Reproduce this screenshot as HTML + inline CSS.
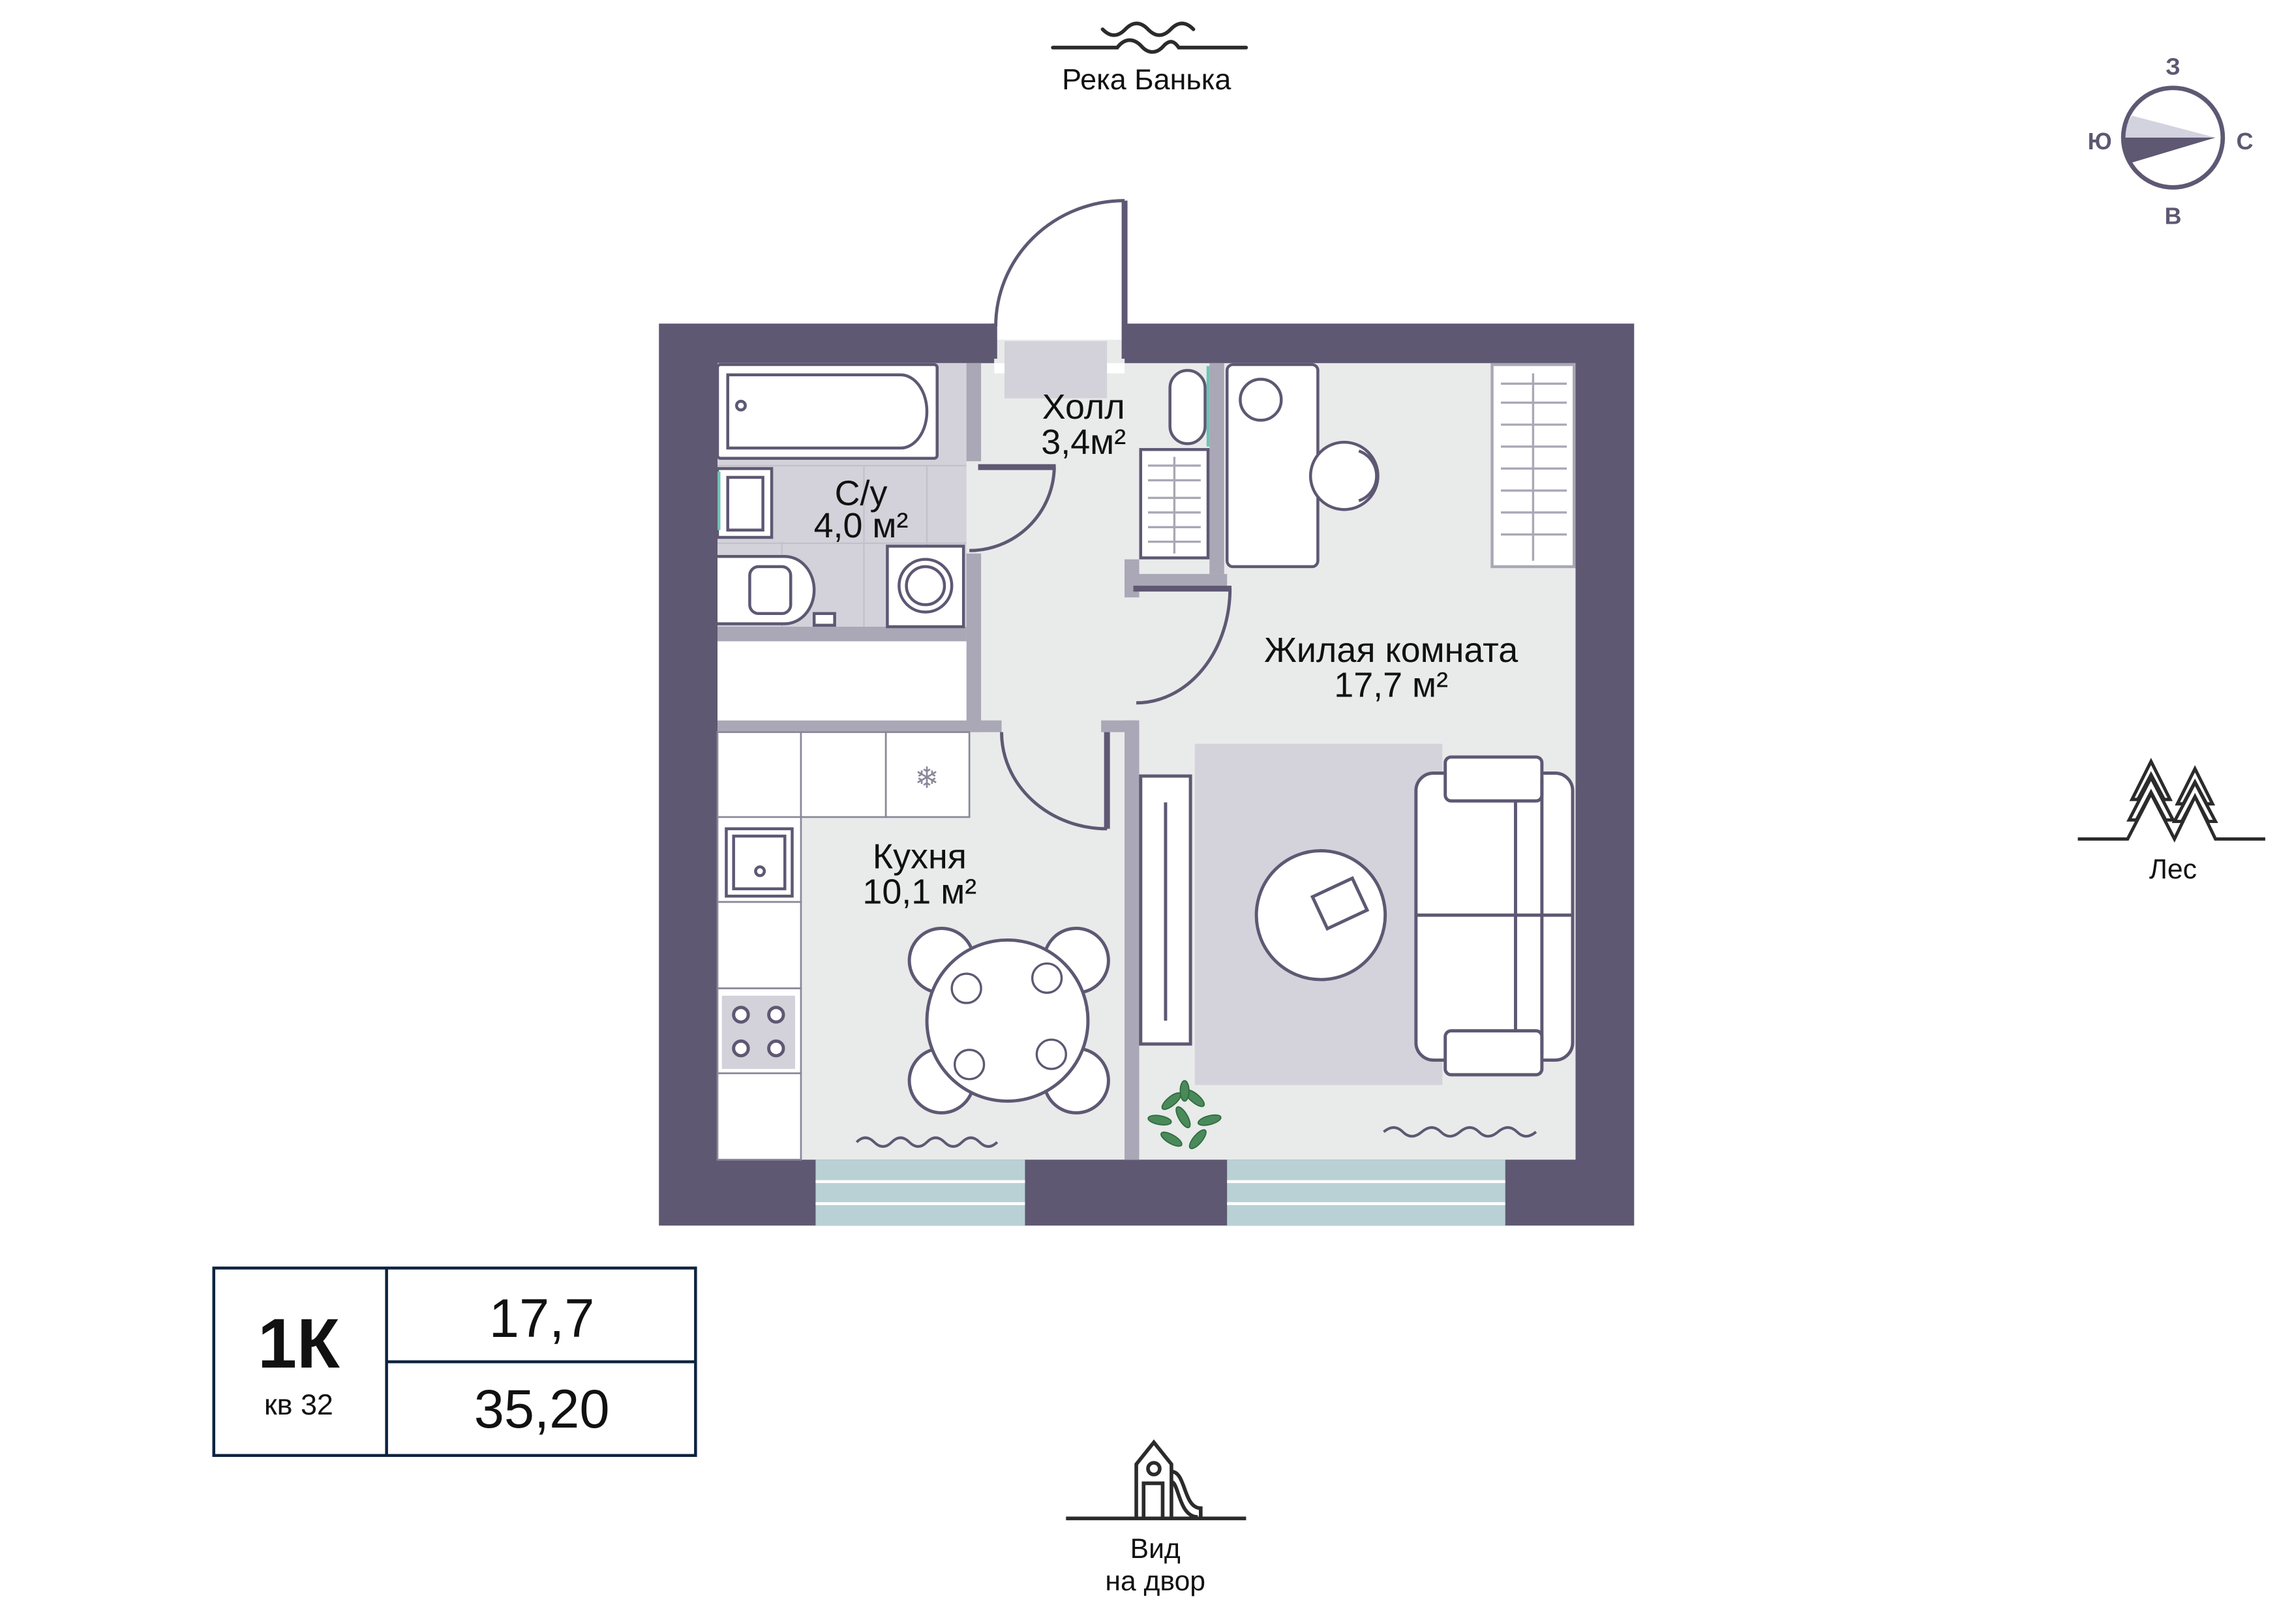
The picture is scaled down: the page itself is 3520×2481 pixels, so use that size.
<!DOCTYPE html>
<html><head><meta charset="utf-8"><style>
html,body{margin:0;padding:0;background:#fff}
svg{display:block}
text{font-family:"Liberation Sans","DejaVu Sans",sans-serif}
</style></head><body>
<svg width="3520" height="2481" viewBox="0 0 1568 1105" preserveAspectRatio="none" xmlns="http://www.w3.org/2000/svg">
<rect width="1568" height="1105" fill="#fff"/>
<!-- River -->
<g fill="none" stroke="#2b2b2b" stroke-width="2.5" stroke-linecap="round">
<path d="M753,20 q7.75,8 15.5,0 t15.5,0 t15.5,0 t15.5,0"/>
<path d="M719,32.5 H763 C768,26 774,26 779,31 C784,37 790,37 795,31 C799,27 802,28 805,32.5 H851"/>
</g>
<text x="783" y="61" font-size="20" text-anchor="middle" fill="#111">Река Банька</text>

<!-- Compass -->
<g>
<circle cx="1484" cy="94" r="34" fill="#fff"/>
<path d="M1513,94 L1456,79 A34,34 0 0 0 1450,94 Z" fill="#d3d2df"/>
<path d="M1513,94 L1450,94 A34,34 0 0 0 1456,111 Z" fill="#5e5873"/>
<circle cx="1484" cy="94" r="34" fill="none" stroke="#5e5873" stroke-width="3"/>
<g font-size="16" font-weight="bold" fill="#5e5873" text-anchor="middle">
<text x="1484" y="51">З</text><text x="1434" y="102">Ю</text><text x="1533" y="102">С</text><text x="1484" y="153">В</text></g>
</g>

<!-- Forest -->
<g fill="none" stroke="#2b2b2b" stroke-width="2.2" stroke-linejoin="miter">
<path d="M1419,573 H1453 L1469,542 L1485,573 L1499,544 L1513,573 H1547"/>
<path d="M1456,546 L1469,520 L1482,546 L1478,546 L1469,529 L1460,546 Z"/>
<path d="M1454,560 L1469,531 L1484,560 L1479,560 L1469,541 L1459,560 Z"/>
<path d="M1487,549 L1499,525 L1511,549 L1507,549 L1499,534 L1491,549 Z"/>
<path d="M1485,561 L1499,534.5 L1513,561 L1508,561 L1499,544 L1490,561 Z"/>
</g>
<text x="1484" y="600" font-size="19" text-anchor="middle" fill="#111">Лес</text>

<!-- Outer walls -->
<rect x="450" y="221" width="666" height="616" fill="#5e5873"/>
<rect x="490" y="248" width="586" height="544" fill="#e9eaea"/>
<rect x="679" y="215" width="89" height="40" fill="#fff"/>
<rect x="679" y="232" width="89" height="16" fill="#e9eaea"/>
<rect x="686" y="233" width="70" height="39" fill="#d3d2da"/>
<path d="M768,137 A88,86 0 0 0 680,223" fill="none" stroke="#5e5873" stroke-width="2.2"/>
<rect x="766" y="137" width="4" height="108" fill="#5e5873"/>
<rect x="677" y="221" width="4" height="24" fill="#5e5873"/>

<!-- Windows -->
<rect x="557" y="792" width="143" height="45" fill="#b9d1d4"/>
<rect x="838" y="792" width="190" height="45" fill="#b9d1d4"/>
<g stroke="#fff" stroke-width="2"><path d="M557,807 H700 M557,822 H700 M838,807 H1028 M838,822 H1028"/></g>

<!-- Bathroom floor -->
<rect x="490" y="248" width="170" height="180" fill="#d3d2da"/>
<g stroke="#c2c1cb" stroke-width="1"><path d="M590,318 V428 M633,318 V428 M534,370 V428 M490,371 H660 M490,318 H660"/></g>

<!-- Partition walls -->
<g fill="#aaa7b6">
<rect x="660" y="248" width="10" height="67"/>
<rect x="660" y="378" width="10" height="122"/>
<rect x="490" y="428" width="170" height="10"/>
<rect x="490" y="492" width="194" height="8"/>
<rect x="752" y="492" width="24" height="8"/>
<rect x="768" y="492" width="10" height="300"/>
<rect x="768" y="382" width="10" height="26"/>
<rect x="768" y="392" width="70" height="8"/>
<rect x="826" y="248" width="10" height="144"/>
</g>
<rect x="490" y="438" width="170" height="54" fill="#fff"/>

<!-- Doors -->
<g fill="none" stroke="#5e5873" stroke-width="2.2">
<path d="M720,319 A58,58 0 0 1 662,376"/>
<path d="M684,500 A72,66 0 0 0 756,566"/>
<path d="M840,402 A64,78 0 0 1 776,480"/>
</g>
<rect x="668" y="317" width="53" height="4" fill="#5e5873"/>
<rect x="774" y="400" width="67" height="4" fill="#5e5873"/>
<rect x="754" y="500" width="4" height="66" fill="#5e5873"/>

<!-- Bathroom furniture -->
<g fill="#fff" stroke="#5e5873" stroke-width="2">
<rect x="490" y="249" width="150" height="64" rx="2"/>
<path d="M497,256 H615 A18,25 0 0 1 615,306 H497 Z"/>
<circle cx="506" cy="277" r="3"/>
<rect x="490" y="320" width="37" height="47"/>
<rect x="497" y="326" width="24" height="36"/>
<path d="M490,380 H536 A20,23 0 0 1 536,426 H490"/>
<rect x="512" y="387" width="28" height="32" rx="6"/>
<rect x="606" y="373" width="52" height="55"/>
<circle cx="632" cy="400" r="18"/><circle cx="632" cy="400" r="13"/>
<rect x="556" y="419" width="14" height="8"/>
</g>
<rect x="490" y="322" width="2" height="40" fill="#6fc2b3"/>

<!-- Hall furniture -->
<g fill="#fff" stroke="#5e5873" stroke-width="2">
<rect x="799" y="253" width="24" height="50" rx="12"/>
<rect x="779" y="307" width="46" height="74"/>
</g>
<rect x="824" y="250" width="2" height="55" fill="#6fc2b3"/>
<g stroke="#aaa7b6" stroke-width="1.5"><path d="M802,312 V378 M784,318 H820 M784,328 H820 M784,340 H820 M784,350 H820 M784,360 H820 M784,370 H820"/></g>

<!-- Living: desk, wardrobe -->
<g fill="#fff" stroke="#5e5873" stroke-width="2">
<rect x="838" y="249" width="62" height="138" rx="4"/>
<circle cx="861" cy="273" r="14"/>
<circle cx="918" cy="325" r="23"/>
<path d="M928,308 A18,18 0 0 1 928,342" fill="none"/>
<rect x="1019" y="249" width="56" height="138" stroke="#aaa7b6"/>
</g>
<g stroke="#aaa7b6" stroke-width="1.5"><path d="M1047,255 V383 M1025,262 H1070 M1025,275 H1070 M1025,290 H1070 M1025,305 H1070 M1025,320 H1070 M1025,335 H1070 M1025,350 H1070 M1025,365 H1070"/></g>

<!-- Rug, sofa, table, TV -->
<rect x="816" y="508" width="169" height="233" fill="#d4d3dc"/>
<g fill="#fff" stroke="#5e5873" stroke-width="2.2">
<rect x="967" y="528" width="107" height="196" rx="12"/>
<rect x="987" y="517" width="66" height="30" rx="4"/>
<rect x="987" y="704" width="66" height="30" rx="4"/>
<path d="M967,625 H1074 M1035,547 V704 M1053,532 V720" fill="none"/>
<circle cx="902" cy="625" r="44"/>
<rect x="900" y="605" width="30" height="24" transform="rotate(-25 915 617)"/>
<rect x="779" y="530" width="34" height="183"/>
<path d="M796,548 V697"/>
</g>
<!-- plant -->
<g fill="#4a8a5a" stroke="#2f6b3e" stroke-width="0.8">
<ellipse cx="800" cy="752" rx="8" ry="3" transform="rotate(-40 800 752)"/>
<ellipse cx="816" cy="750" rx="8" ry="3" transform="rotate(40 816 750)"/>
<ellipse cx="792" cy="765" rx="8" ry="3" transform="rotate(10 792 765)"/>
<ellipse cx="826" cy="765" rx="8" ry="3" transform="rotate(-15 826 765)"/>
<ellipse cx="808" cy="763" rx="8" ry="3" transform="rotate(60 808 763)"/>
<ellipse cx="800" cy="778" rx="8" ry="3" transform="rotate(30 800 778)"/>
<ellipse cx="818" cy="778" rx="8" ry="3" transform="rotate(-50 818 778)"/>
<ellipse cx="809" cy="745" rx="7" ry="3" transform="rotate(90 809 745)"/>
</g>

<!-- Kitchen -->
<g fill="#fff" stroke="#8b879a" stroke-width="1.2">
<rect x="490" y="500" width="57" height="58"/>
<rect x="547" y="500" width="58" height="58"/>
<rect x="605" y="500" width="57" height="58"/>
<rect x="490" y="558" width="57" height="58"/>
<rect x="490" y="616" width="57" height="59"/>
<rect x="490" y="675" width="57" height="58"/>
<rect x="490" y="733" width="57" height="59"/>
</g>
<text x="633" y="538" font-size="20" text-anchor="middle" fill="#8b879a">❄</text>
<g fill="#fff" stroke="#5e5873" stroke-width="2"><rect x="496" y="566" width="45" height="46"/><rect x="501" y="571" width="35" height="36"/><circle cx="519" cy="595" r="3"/></g>
<rect x="493" y="680" width="50" height="50" fill="#d3d2da"/>
<g fill="#fff" stroke="#5e5873" stroke-width="2.2"><circle cx="506" cy="693" r="5"/><circle cx="530" cy="693" r="5"/><circle cx="506" cy="716" r="5"/><circle cx="530" cy="716" r="5"/></g>
<g fill="#fff" stroke="#5e5873" stroke-width="2.2">
<circle cx="643" cy="656" r="22"/><circle cx="735" cy="656" r="22"/><circle cx="643" cy="738" r="22"/><circle cx="735" cy="738" r="22"/>
<circle cx="688" cy="697" r="55"/>
<circle cx="660" cy="675" r="10" stroke-width="1.5"/><circle cx="715" cy="668" r="10" stroke-width="1.5"/>
<circle cx="662" cy="727" r="10" stroke-width="1.5"/><circle cx="718" cy="720" r="10" stroke-width="1.5"/>
</g>
<g fill="none" stroke="#5e5873" stroke-width="1.8">
<path d="M585,780 q6,-6 12,0 t12,0 t12,0 t12,0 t12,0 t12,0 t12,0 t12,0"/>
<path d="M945,773 q7,-6 13,0 t13,0 t13,0 t13,0 t13,0 t13,0 t13,0 t13,0"/>
</g>

<!-- Labels -->
<g font-size="24" fill="#111" text-anchor="middle">
<text x="740" y="286">Холл</text><text x="740" y="310">3,4м²</text>
<text x="588" y="345">С/у</text><text x="588" y="367">4,0 м²</text>
<text x="950" y="452">Жилая комната</text><text x="950" y="476">17,7 м²</text>
<text x="628" y="593">Кухня</text><text x="628" y="617">10,1 м²</text>
</g>

<!-- Info box -->
<g fill="none" stroke="#0d2340" stroke-width="2">
<rect x="146" y="866" width="329" height="128"/>
<path d="M264,866 V994 M264,930 H475"/>
</g>
<text x="204" y="934" font-size="48" font-weight="bold" text-anchor="middle" fill="#111">1К</text>
<text x="204" y="966" font-size="20" text-anchor="middle" fill="#111">кв 32</text>
<text x="370" y="913" font-size="37" text-anchor="middle" fill="#111">17,7</text>
<text x="370" y="975" font-size="37" text-anchor="middle" fill="#111">35,20</text>

<!-- Playground -->
<g fill="none" stroke="#2b2b2b" stroke-width="2.5">
<path d="M728,1037 H851"/>
<path d="M776,1036 V1000 L788,985 L800,1000 V1036 M781,1036 V1013 H794 V1036"/>
<circle cx="788" cy="1003" r="4"/>
<path d="M800,1005 C810,1005 808,1030 820,1030 V1036"/>
<path d="M800,1012 C805,1012 805,1036 818,1036"/>
</g>
<text x="789" y="1064" font-size="19" text-anchor="middle" fill="#111">Вид</text>
<text x="789" y="1086" font-size="19" text-anchor="middle" fill="#111">на двор</text>
</svg>
</body></html>
